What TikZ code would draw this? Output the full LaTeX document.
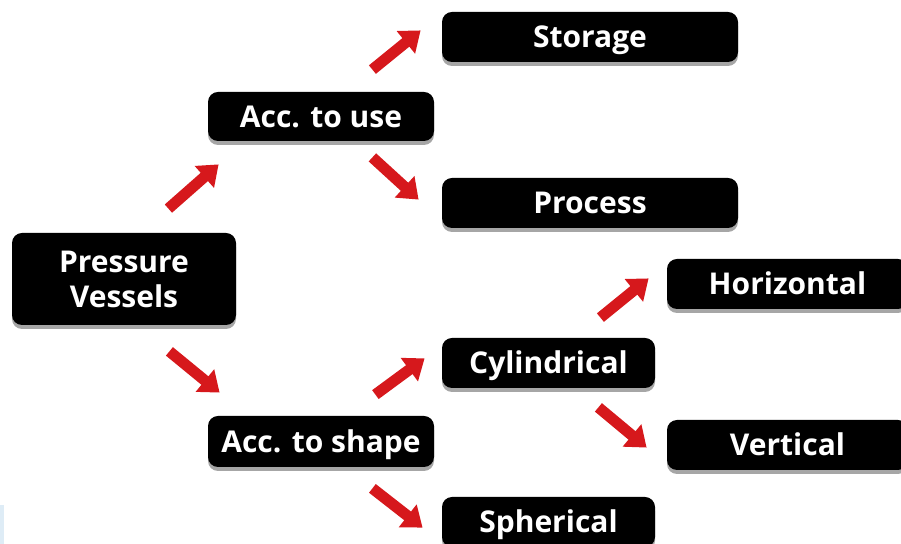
\documentclass[tikz,border=0pt]{standalone}
\usepackage{fontspec}
\setmainfont{Open Sans}
\usetikzlibrary{arrows.meta,shadows,calc}
\definecolor{arrred}{RGB}{214,24,28}
\definecolor{faintblue}{RGB}{222,236,246}
\tikzset{
  box/.style={draw=none, fill=black, rounded corners=5pt, inner sep=0pt,
    text=white, font=\fontsize{15}{17.5}\selectfont\bfseries, align=center,
    drop shadow={shadow xshift=0pt, shadow yshift=-2pt, opacity=0.35, fill=black}},
  onebox/.style={box, text height=11pt, text depth=0pt},
  arr/.style={draw=arrred, line width=5.5pt, line cap=butt,
    -{Triangle[length=9.5pt, width=14pt]}}
}
\begin{document}
\begin{tikzpicture}[x=0.5pt, y=-0.5pt]
\useasboundingbox (0,0) rectangle (901,544);
\clip (0,0) rectangle (901,544);
\fill[faintblue] (0,505) rectangle (4,544);
\node[box, minimum width=112pt, minimum height=46pt] (pv) at (124,279) {Pressure\\Vessels};
\node[onebox, minimum width=113pt, minimum height=24.5pt] (use) at (321,116.5) {Acc. to use};
\node[onebox, minimum width=113pt, minimum height=25.5pt] (shape) at (321,441.5) {Acc. to shape};
\node[onebox, minimum width=148pt, minimum height=25pt] (storage) at (590,37) {Storage};
\node[onebox, minimum width=148pt, minimum height=25pt] (process) at (590,203) {Process};
\node[onebox, minimum width=106.5pt, minimum height=25pt] (cyl) at (548.5,363) {Cylindrical};
\node[onebox, minimum width=120.5pt, minimum height=25pt] (horiz) at (787.5,284) {Horizontal};
\node[onebox, minimum width=120.5pt, minimum height=25pt] (vert) at (787.5,445) {Vertical};
\node[onebox, minimum width=106.5pt, minimum height=25pt] (sph) at (548.5,522) {Spherical};
\draw[arr] ($(pv.north east)+(-68,-24)$) -- ($(use.south west)+(11,23)$);
\draw[arr] ($(pv.south east)+(-67,26)$) -- ($(shape.north west)+(12,-23)$);
\draw[arr] ($(use.north east)+(-62,-22)$) -- ($(storage.south west)+(-21,-32)$);
\draw[arr] ($(use.south east)+(-62,16)$) -- ($(process.north west)+(-23,22)$);
\draw[arr] ($(shape.north east)+(-59,-21)$) -- ($(cyl.south west)+(-17,-30)$);
\draw[arr] ($(shape.south east)+(-62,21)$) -- ($(sph.north west)+(-19,31)$);
\draw[arr] ($(cyl.north east)+(-55,-20)$) -- ($(horiz.south west)+(-18,-31)$);
\draw[arr] ($(cyl.south east)+(-57,19)$) -- ($(vert.north west)+(-20,28)$);
\end{tikzpicture}
\end{document}
